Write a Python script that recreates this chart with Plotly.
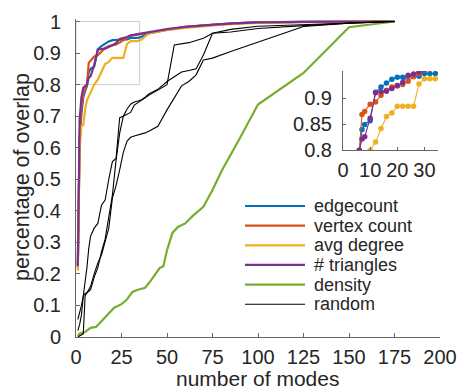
import plotly.graph_objects as go

# ---------------- data ----------------
x_modes = [1, 2, 3, 4, 5, 6, 7, 8, 10, 12, 14, 16, 18, 20, 22, 24, 26, 28, 30, 32, 34,
           36, 38, 40, 45, 50, 60, 70, 80, 90, 100, 125, 150, 175]

edgecount = [0.23, 0.62, 0.71, 0.76, 0.78, 0.795, 0.84, 0.85, 0.857, 0.912, 0.922, 0.93, 0.937,
             0.941, 0.941, 0.943, 0.943, 0.943, 0.948, 0.948, 0.948, 0.952, 0.956, 0.962,
             0.968, 0.974, 0.982, 0.988, 0.992, 0.995, 0.997, 0.999, 1.0, 1.0]
vertex_count = [0.22, 0.64, 0.73, 0.77, 0.785, 0.80, 0.869, 0.875, 0.889, 0.893, 0.906, 0.916,
                0.922, 0.924, 0.927, 0.933, 0.942, 0.948, 0.955, 0.957, 0.959, 0.961, 0.963,
                0.965, 0.970, 0.975, 0.983, 0.988, 0.992, 0.995, 0.997, 0.999, 1.0, 1.0]
avg_degree = [0.21, 0.60, 0.67, 0.672, 0.72, 0.75, 0.762, 0.775, 0.80, 0.816, 0.842, 0.865,
              0.872, 0.885, 0.885, 0.885, 0.885, 0.928, 0.938, 0.938, 0.938, 0.943, 0.952,
              0.962, 0.968, 0.973, 0.980, 0.986, 0.990, 0.993, 0.996, 0.998, 1.0, 1.0]
triangles = [0.224, 0.69, 0.76, 0.79, 0.795, 0.80, 0.822, 0.826, 0.862, 0.911, 0.913, 0.914,
             0.919, 0.925, 0.931, 0.945, 0.947, 0.951, 0.956, 0.958, 0.960, 0.962, 0.964,
             0.966, 0.971, 0.976, 0.983, 0.988, 0.992, 0.995, 0.997, 0.999, 1.0, 1.0]

x_density = [1, 2, 5, 8, 11, 14, 18, 21, 25, 28, 31, 34, 38, 41, 46, 48, 50, 53, 56, 60, 64,
             70, 75, 80, 90, 100, 125, 150, 175]
density = [0.003, 0.011, 0.016, 0.029, 0.032, 0.051, 0.076, 0.093, 0.104, 0.119, 0.143, 0.150,
           0.156, 0.178, 0.219, 0.224, 0.275, 0.330, 0.349, 0.360, 0.383, 0.413, 0.466, 0.526,
           0.630, 0.737, 0.837, 0.982, 1.0]

x_random = [1, 2, 3, 4, 5, 6, 7, 8, 10, 12, 14, 16, 18, 20, 22, 24, 26, 28, 30, 32, 34, 36,
            38, 40, 45, 50, 54, 58, 62, 66, 70, 75, 85, 100, 125, 150, 175]
random_1 = [0.055, 0.075, 0.10, 0.13, 0.17, 0.22, 0.28, 0.32, 0.345, 0.36, 0.418, 0.434, 0.50,
            0.556, 0.566, 0.695, 0.70, 0.706, 0.712, 0.735, 0.742, 0.75, 0.758, 0.766, 0.783,
            0.80, 0.926, 0.93, 0.933, 0.94, 0.947, 0.963, 0.975, 0.985, 0.99, 0.995, 1.0]
random_2 = [0.02, 0.04, 0.07, 0.13, 0.138, 0.14, 0.145, 0.15, 0.19, 0.22, 0.27, 0.31, 0.38,
            0.45, 0.56, 0.646, 0.70, 0.722, 0.738, 0.745, 0.748, 0.752, 0.76, 0.77, 0.785,
            0.81, 0.825, 0.84, 0.845, 0.85, 0.894, 0.963, 0.967, 0.978, 0.987, 0.995, 1.0]
random_3 = [0.0, 0.003, 0.006, 0.01, 0.13, 0.14, 0.15, 0.16, 0.20, 0.235, 0.26, 0.30, 0.345,
            0.44, 0.48, 0.53, 0.585, 0.62, 0.633, 0.637, 0.64, 0.643, 0.647, 0.652, 0.668,
            0.72, 0.758, 0.796, 0.81, 0.831, 0.878, 0.884, 0.905, 0.935, 0.984, 0.995, 1.0]

x_ticks = [0, 25, 50, 75, 100, 125, 150, 175, 200]
y_ticks = [0, 0.1, 0.2, 0.3, 0.4, 0.5, 0.6, 0.7, 0.8, 0.9, 1.0]
y_tick_labels = ["0", "0.1", "0.2", "0.3", "0.4", "0.5", "0.6", "0.7", "0.8", "0.9", "1"]
inset_x_ticks = [0, 10, 20, 30]
inset_y_ticks = [0.8, 0.85, 0.9]
inset_y_tick_labels = ["0.8", "0.85", "0.9"]

series = [
    ("edgecount", x_modes, edgecount, "#0072BD"),
    ("vertex count", x_modes, vertex_count, "#D95319"),
    ("avg degree", x_modes, avg_degree, "#EDB120"),
    ("# triangles", x_modes, triangles, "#7E2F8E"),
]

# ---------------- geometry helpers (pixel -> paper) ----------------
W, H = 458, 390
ML, MR, MT, MB = 76, 18, 19, 53
PW, PH = W - ML - MR, H - MT - MB


def px(xp):
    return (xp - ML) / PW


def py(yp):
    return (H - MB - yp) / PH


FONT = "Liberation Sans, Arial, Helvetica, sans-serif"
TXT = "#262626"
AX = "#666666"

fig = go.Figure()

# main traces
for name, xs, ys, col in series:
    fig.add_trace(go.Scatter(x=xs, y=ys, mode="lines", name=name,
                             line=dict(color=col, width=2.2), xaxis="x", yaxis="y"))
fig.add_trace(go.Scatter(x=x_density, y=density, mode="lines", name="density",
                         line=dict(color="#77AC30", width=2.2), xaxis="x", yaxis="y"))
for i, r in enumerate([random_1, random_2, random_3]):
    fig.add_trace(go.Scatter(x=x_random, y=r, mode="lines", name="random",
                             line=dict(color="black", width=1.1), xaxis="x", yaxis="y"))

# inset traces
for name, xs, ys, col in series:
    fig.add_trace(go.Scatter(x=xs, y=ys, mode="lines+markers", name=name,
                             line=dict(color=col, width=1.1),
                             marker=dict(color=col, size=5.5),
                             xaxis="x2", yaxis="y2"))

# zoom rectangle on the main axes
fig.add_shape(type="rect", xref="x", yref="y", x0=0, x1=35, y0=0.8, y1=1.0,
              line=dict(color="#cccccc", width=1), layer="below")

# legend (MATLAB style, no box)
legend_items = [(s[0], s[3], 2.2) for s in series] + [("density", "#77AC30", 2.2),
                                                      ("random", "black", 1.1)]
for i, (name, col, lw) in enumerate(legend_items):
    yy = 206 + i * 19.65
    fig.add_shape(type="line", xref="paper", yref="paper", x0=px(245), x1=px(305),
                  y0=py(yy), y1=py(yy), line=dict(color=col, width=lw))
    fig.add_annotation(text=name, xref="paper", yref="paper", x=px(312), y=py(yy),
                       xanchor="left", yanchor="middle", showarrow=False,
                       font=dict(family=FONT, size=18, color=TXT))

# axis titles
fig.add_annotation(text="number of modes", xref="paper", yref="paper", x=px(257.5), y=py(378.5),
                   xanchor="center", yanchor="middle", showarrow=False,
                   font=dict(family=FONT, size=21, color=TXT))
fig.add_annotation(text="percentage of overlap", xref="paper", yref="paper", x=px(22), y=py(177),
                   xanchor="center", yanchor="middle", textangle=-90, showarrow=False,
                   font=dict(family=FONT, size=21.5, color=TXT))

axis_common = dict(showgrid=False, zeroline=False, showline=True, linecolor=AX, linewidth=1,
                   ticks="inside", tickcolor=AX, tickwidth=1, mirror=False, automargin=False,
                   tickfont=dict(family=FONT, size=20, color=TXT))

fig.update_layout(
    width=W, height=H, margin=dict(l=ML, r=MR, t=MT, b=MB, pad=0),
    paper_bgcolor="white", plot_bgcolor="white", showlegend=False,
    font=dict(family=FONT, color=TXT),
    xaxis=dict(domain=[0, 1], range=[0, 200], tickmode="array", tickvals=x_ticks,
               ticklen=4, ticklabelstandoff=2, anchor="y", **axis_common),
    yaxis=dict(domain=[0, 1], range=[0, 1.008], tickmode="array", tickvals=y_ticks,
               ticktext=y_tick_labels, ticklen=4, ticklabelstandoff=10, anchor="x",
               **axis_common),
    xaxis2=dict(domain=[px(343), px(438)], range=[0, 35], tickmode="array",
                tickvals=inset_x_ticks, ticklen=3, ticklabelstandoff=2, anchor="y2",
                **axis_common),
    yaxis2=dict(domain=[py(150.3), py(71)], range=[0.8, 0.953], tickmode="array",
                tickvals=inset_y_ticks, ticktext=inset_y_tick_labels, ticklen=3,
                ticklabelstandoff=6, anchor="x2", **axis_common),
)

fig.write_html("out.html", config={"displayModeBar": False},
               post_script="document.body.style.margin='0px';")
